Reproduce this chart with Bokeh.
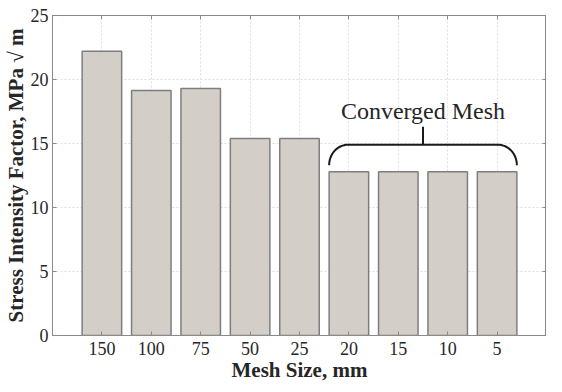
import numpy as np
from bokeh.plotting import figure
from bokeh.models import LinearAxis, FixedTicker, Range1d, Label, ColumnDataSource
from bokeh.embed import file_html
from bokeh.resources import INLINE

# ---- data ----
mesh_sizes = ["150", "100", "75", "50", "25", "20", "15", "10", "5"]
sif_values = [22.2, 19.15, 19.3, 15.4, 15.4, 12.8, 12.8, 12.8, 12.8]
y_ticks = [0, 5, 10, 15, 20, 25]
x_label = "Mesh Size, mm"
y_label = "Stress Intensity Factor, MPa \u221a m"
brace_label = "Converged Mesh"
converged_from = "20"

FONT = "Liberation Serif"
TXT = "#262626"
AX = "#8a8a8a"

x_pos = list(range(1, len(mesh_sizes) + 1))
bar_w = 0.8

p = figure(width=546, height=384,
           x_range=Range1d(0, len(mesh_sizes) + 1), y_range=Range1d(0, 25),
           output_backend="svg", toolbar_location=None,
           min_border_left=40, min_border_right=0, min_border_top=15, min_border_bottom=36,
           background_fill_color="white", border_fill_color="white",
           outline_line_color=AX, outline_line_width=1)

src = ColumnDataSource(dict(x=x_pos, top=sif_values, label=mesh_sizes))
p.vbar(x="x", top="top", width=bar_w, bottom=0, source=src,
       fill_color="#d3cfc8", line_color="#7e7e7e", line_width=1.5)

xt = FixedTicker(ticks=x_pos)
yt = FixedTicker(ticks=y_ticks)

xa = p.xaxis[0]
xa.ticker = xt
xa.major_label_overrides = {x: s for x, s in zip(x_pos, mesh_sizes)}
ya = p.yaxis[0]
ya.ticker = yt

for ax in (xa, ya):
    ax.axis_line_color = AX
    ax.major_tick_line_color = AX
    ax.major_tick_in = 4
    ax.major_tick_out = 0
    ax.minor_tick_line_color = None
    ax.major_label_text_font = FONT
    ax.major_label_text_font_size = "18px"
    ax.major_label_text_color = TXT
    ax.axis_label_text_font = FONT
    ax.axis_label_text_font_size = "21px"
    ax.axis_label_text_font_style = "bold"
    ax.axis_label_text_color = TXT

xa.axis_label = x_label
ya.axis_label = y_label
xa.major_label_standoff = 6
xa.axis_label_standoff = 0
ya.major_label_standoff = 4
ya.axis_label_standoff = 0

for loc, tk, ticks in (("above", xt, x_pos), ("right", yt, y_ticks)):
    a = LinearAxis(ticker=tk, major_label_overrides={v: "" for v in ticks},
                   major_label_standoff=0,
                   major_tick_in=4, major_tick_out=0, minor_tick_line_color=None,
                   axis_line_color=None, major_tick_line_color=AX)
    p.add_layout(a, loc)

p.xgrid.ticker = xt
p.ygrid.ticker = yt
for g in (p.xgrid, p.ygrid):
    g.grid_line_color = "#dedede"
    g.grid_line_dash = "2 2"
    g.grid_line_width = 1

# ---- brace over converged bars ----
i0 = mesh_sizes.index(converged_from)
x0 = x_pos[i0] - bar_w / 2
x1 = x_pos[-1] + bar_w / 2
xm = (x0 + x1) / 2
y_end = sif_values[i0] + 0.5
y_h = y_end + 1.6
y_tip = y_h + 1.4
rx = 0.38
t = np.linspace(0, np.pi / 2, 20)
left_x = list(x0 + rx - rx * np.cos(t))
left_y = list(y_end + (y_h - y_end) * np.sin(t))
right_x = list(x1 - rx + rx * np.cos(t[::-1]))
right_y = list(y_end + (y_h - y_end) * np.sin(t[::-1]))
bx = left_x + right_x
by = left_y + right_y
p.line(bx, by, line_color="#1a1a1a", line_width=2)
p.segment(x0=[xm], y0=[y_h], x1=[xm], y1=[y_tip], line_color="#1a1a1a", line_width=2)

p.add_layout(Label(x=xm, y=y_tip + 0.2, text=brace_label, text_font=FONT,
                   text_font_size="24px", text_color=TXT,
                   text_align="center", text_baseline="bottom"))

open("out.html", "w").write(file_html(p, INLINE))
